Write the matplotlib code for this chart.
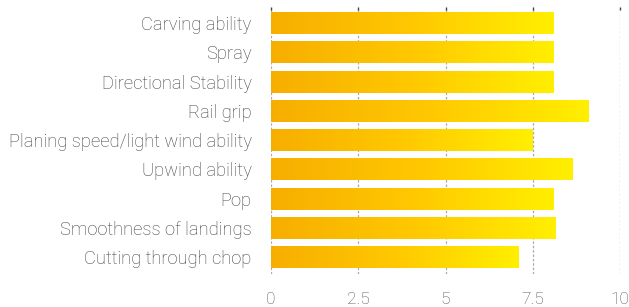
import numpy as np
import matplotlib
matplotlib.use("Agg")
import matplotlib.pyplot as plt
from matplotlib.colors import LinearSegmentedColormap

categories = ["Carving ability", "Spray", "Directional Stability", "Rail grip",
              "Planing speed/light wind ability", "Upwind ability", "Pop",
              "Smoothness of landings", "Cutting through chop"]
values = [8.1, 8.1, 8.1, 9.1, 7.5, 8.65, 8.1, 8.15, 7.1]
xticks = [0, 2.5, 5, 7.5, 10]
xticklabels = ["0", "2.5", "5", "7.5", "10"]

plt.rcParams['font.family'] = ['Roboto', 'DejaVu Sans']

fig = plt.figure(figsize=(6.29, 3.07), dpi=100)
ax = fig.add_axes([0.431, 0.107, 0.555, 0.870])

cmap = LinearSegmentedColormap.from_list("g", ["#F7AE00", "#FFC800", "#FFEF00"])
grad = np.linspace(0, 1, 256).reshape(1, -1)
h = 0.75
ypos = np.arange(len(categories))
bars = ax.barh(ypos, values, height=h, color="none", edgecolor="none", zorder=3)
for b in bars:
    x0, y0, w, hh = b.get_x(), b.get_y(), b.get_width(), b.get_height()
    im = ax.imshow(grad, cmap=cmap, aspect="auto", extent=[x0, x0 + w, y0 + hh, y0],
                   zorder=3, interpolation="bicubic")
    im.set_clip_path(b)

ax.set_xlim(0, 10)
ax.set_ylim(len(categories) - 1 + 0.58, -0.55)
for xv in xticks:
    ax.axvline(xv, color="#aaaaaa", lw=0.9, ls=(0, (2, 1.5)), zorder=1)
ax.set_xticks(xticks)
ax.set_xticklabels(xticklabels)
ax.set_yticks(ypos)
ax.set_yticklabels(categories)
ax.tick_params(axis="x", which="both", bottom=False, top=True, length=2.5, width=1,
               color="#444444", labelsize=12.5, labelcolor="#555555", pad=13,
               direction="in")
ax.tick_params(axis="y", length=0, labelsize=13.2, labelcolor="#404040", pad=14)
for lab in ax.get_xticklabels() + ax.get_yticklabels():
    lab.set_fontweight("light")
for s in ax.spines.values():
    s.set_visible(False)

fig.savefig("out.png", dpi=100)
